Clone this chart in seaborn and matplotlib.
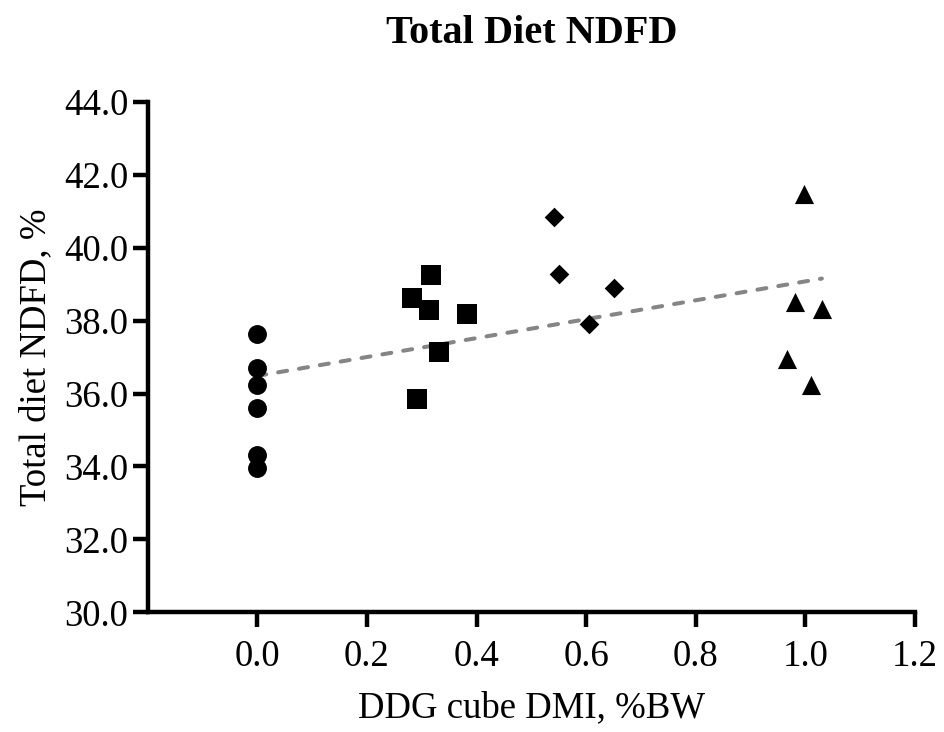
import matplotlib
matplotlib.use("Agg")
import matplotlib.pyplot as plt
import pandas as pd
import seaborn as sns

# DDG cube intake (% BW) and total-diet NDFD (%) per animal, by treatment
ctrl_x = [0.0, 0.0, 0.0, 0.0, 0.0, 0.0]
ctrl_y = [37.63, 36.69, 36.23, 35.61, 34.31, 33.95]
low_x = [0.317, 0.282, 0.314, 0.382, 0.332, 0.291]
low_y = [39.25, 38.61, 38.29, 38.17, 37.15, 35.85]
mid_x = [0.542, 0.551, 0.651, 0.606]
mid_y = [40.83, 39.28, 38.90, 37.90]
high_x = [0.998, 0.981, 1.030, 0.967, 1.011]
high_y = [41.48, 38.51, 38.31, 36.94, 36.23]

x_ticks = [0.0, 0.2, 0.4, 0.6, 0.8, 1.0, 1.2]
y_ticks = [30.0, 32.0, 34.0, 36.0, 38.0, 40.0, 42.0, 44.0]

groups = ["Control", "Low", "Medium", "High"]
df = pd.concat(
    [
        pd.DataFrame({"dmi": x, "ndfd": y, "group": g})
        for g, x, y in zip(groups, [ctrl_x, low_x, mid_x, high_x],
                           [ctrl_y, low_y, mid_y, high_y])
    ],
    ignore_index=True,
)

sns.set_style("ticks")
plt.rcParams["font.family"] = ["Liberation Serif", "DejaVu Serif"]
plt.rcParams["text.color"] = "black"
plt.rcParams["axes.labelcolor"] = "black"

fig = plt.figure(figsize=(9.45, 7.32), dpi=100)
ax = fig.add_axes([0.1563, 0.1635, 0.812, 0.6975])

# fitted regression line across the observed range
sns.regplot(
    data=df, x="dmi", y="ndfd", ax=ax, scatter=False, ci=None, truncate=True,
    line_kws=dict(color="#858585", lw=2.9, linestyle=(0, (2.25, 3.0)),
                  dash_capstyle="round", zorder=2),
)

marker_styles = {
    "Control": ("o", 185),
    "Low": ("s", 190),
    "Medium": ("D", 100),
    "High": ("^", 190),
}
for g in groups:
    m, s = marker_styles[g]
    sns.scatterplot(
        data=df[df["group"] == g], x="dmi", y="ndfd", ax=ax,
        marker=m, s=s, color="black", linewidth=0, zorder=3, legend=False,
    )

ax.set_xlim(-0.2, 1.2)
ax.set_ylim(30.0, 44.0)
ax.set_xticks(x_ticks)
ax.set_yticks(y_ticks)
ax.set_xticklabels([f"{v:.1f}" for v in x_ticks])
ax.set_yticklabels([f"{v:.1f}" for v in y_ticks])

for side in ["top", "right"]:
    ax.spines[side].set_visible(False)
for side in ["left", "bottom"]:
    ax.spines[side].set_linewidth(3.2)
    ax.spines[side].set_color("black")
    ax.spines[side].set_capstyle("projecting")

ax.tick_params(axis="both", which="major", length=10.5, width=3.2,
               color="black", labelsize=26.5, labelcolor="black")
ax.tick_params(axis="x", pad=9)
ax.tick_params(axis="y", pad=3.5)

ax.set_xlabel("DDG cube DMI, %BW", fontsize=26.5, labelpad=12, color="black")
ax.set_ylabel("Total diet NDFD, %", fontsize=26.5, labelpad=8, color="black")
ax.set_title("Total Diet NDFD", fontsize=29, fontweight="bold", pad=42,
             color="black")

fig.savefig("out.png", dpi=100)
